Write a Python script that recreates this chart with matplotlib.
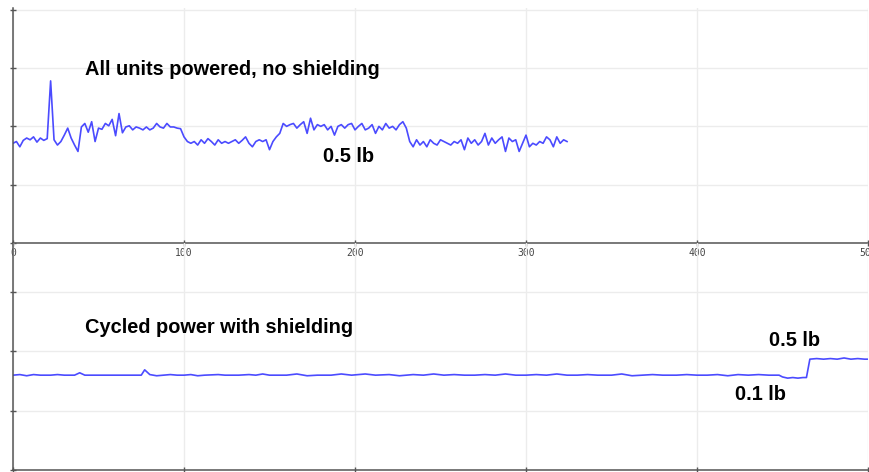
import numpy as np
import matplotlib
matplotlib.use("Agg")
import matplotlib.pyplot as plt

# top trace: all units powered, no shielding (sampled every 2 units)
top_a_start = 0
top_a = [1.71, 1.74, 1.65, 1.76, 1.80, 1.77, 1.82, 1.73, 1.80, 1.76, 1.79,
         2.78, 1.77, 1.68, 1.74, 1.85, 1.97, 1.80, 1.68, 1.57, 1.99, 2.05, 1.90,
         2.08, 1.74, 1.97, 1.95, 2.05, 2.01, 2.12, 1.84, 2.22, 1.89, 1.99,
         2.01, 1.94, 1.99, 1.97, 1.94, 1.99, 1.94, 1.97, 2.05, 1.99, 1.97, 2.05,
         1.99, 1.99, 1.97, 1.96]
top_b_start = 100
top_b = [1.82, 1.74, 1.71, 1.74, 1.68, 1.77, 1.71, 1.79, 1.74, 1.68, 1.77, 1.71,
         1.74, 1.71, 1.74, 1.77, 1.71, 1.76, 1.82, 1.71, 1.65, 1.74, 1.77, 1.74,
         1.77, 1.60, 1.74, 1.82, 1.88]
top_c_start = 158
top_c = [2.05, 2.00, 2.03, 2.05, 1.97, 2.03, 2.08, 1.88, 2.14, 1.94, 2.03, 2.00,
         2.03, 1.94, 2.00, 1.85, 2.00, 2.03, 1.97, 2.03, 2.05, 1.94, 2.00, 2.05,
         1.94, 1.97, 2.03, 1.88, 2.00, 1.94, 2.05, 1.97, 2.00, 1.94, 2.03, 2.08, 1.97]
top_d_start = 232
top_d = [1.74, 1.65, 1.77, 1.68, 1.74, 1.65, 1.77, 1.71, 1.68, 1.77, 1.74, 1.71,
         1.68, 1.74, 1.71, 1.77, 1.60, 1.80, 1.71, 1.77, 1.68, 1.74, 1.88, 1.68,
         1.80, 1.71, 1.77, 1.82, 1.57, 1.80, 1.74, 1.77, 1.57, 1.71, 1.85, 1.65,
         1.71, 1.68, 1.74, 1.71, 1.82, 1.77, 1.65, 1.82, 1.71, 1.77, 1.74]

# bottom trace: cycled power with shielding
bot_x = [0, 4, 8, 12, 16, 22, 26, 30, 36, 39, 42, 56, 60, 75, 77, 80, 84, 88, 92,
         96, 100, 104, 108, 112, 120, 124, 132, 138, 142, 146, 150, 160, 166, 172,
         178, 186, 192, 198, 206, 212, 220, 226, 234, 240, 246, 252, 258, 264, 270,
         276, 282, 288, 294, 300, 306, 312, 318, 324, 330, 336, 342, 350, 356, 362,
         368, 374, 380, 388, 394, 400, 406, 412, 418, 424, 430, 436, 442, 448, 450,
         453, 456, 459, 462, 464, 466, 470, 474, 478, 482, 486, 490, 494, 498, 500]
bot_y = [1.60, 1.61, 1.59, 1.61, 1.60, 1.60, 1.61, 1.60, 1.60, 1.64, 1.60, 1.60,
         1.60, 1.60, 1.69, 1.61, 1.59, 1.60, 1.61, 1.60, 1.60, 1.61, 1.59, 1.60,
         1.61, 1.60, 1.60, 1.61, 1.60, 1.62, 1.60, 1.60, 1.62, 1.59, 1.60, 1.60,
         1.62, 1.60, 1.62, 1.60, 1.61, 1.59, 1.61, 1.60, 1.62, 1.60, 1.61, 1.60,
         1.60, 1.61, 1.60, 1.62, 1.60, 1.60, 1.61, 1.60, 1.62, 1.60, 1.60, 1.61,
         1.60, 1.60, 1.62, 1.59, 1.60, 1.61, 1.60, 1.60, 1.61, 1.60, 1.60, 1.61,
         1.59, 1.61, 1.60, 1.61, 1.60, 1.60, 1.57, 1.55, 1.56, 1.55, 1.56, 1.56,
         1.87, 1.88, 1.87, 1.88, 1.87, 1.89, 1.87, 1.88, 1.87, 1.87]

x_ticks = [0, 100, 200, 300, 400, 500]
top_y_ticks = [0, 1, 2, 3, 4]
bot_y_ticks = [0, 1, 2, 3]

top_x, top_y = [], []
for start, vals in [(top_a_start, top_a), (top_b_start, top_b),
                    (top_c_start, top_c), (top_d_start, top_d)]:
    top_x += list(np.arange(start, start + 2 * len(vals), 2))
    top_y += vals

line_col = "#4b4bff"
spine_col = "#555555"
grid_col = "#ececec"
lab_font = ["Liberation Sans", "DejaVu Sans"]

fig = plt.figure(figsize=(8.7, 4.72), dpi=100)
ax1 = fig.add_axes([13 / 870, 229 / 472, 855 / 870, 235 / 472])
ax2 = fig.add_axes([13 / 870, 2 / 472, 855 / 870, 227 / 472])


def style(ax, ymax, yticks):
    ax.set_xlim(0, 500)
    ax.set_ylim(0, ymax)
    ax.set_xticks(x_ticks)
    ax.set_yticks(yticks)
    ax.set_yticklabels([])
    ax.grid(True, color=grid_col, linewidth=1)
    ax.set_axisbelow(True)
    for s in ["top", "right"]:
        ax.spines[s].set_visible(False)
    for s in ["left", "bottom"]:
        ax.spines[s].set_color(spine_col)
        ax.spines[s].set_linewidth(1.1)
    ax.tick_params(direction="inout", length=5, width=1, color=spine_col,
                   labelsize=7, labelcolor="#444444", pad=1)
    ax.patch.set_alpha(0)


style(ax1, 4.03, top_y_ticks)
style(ax2, 3.83, bot_y_ticks)
for t in ax1.get_xticklabels():
    t.set_family("DejaVu Sans Mono")
ax2.set_xticklabels([])

ax1.plot(top_x, top_y, color=line_col, linewidth=1.2)
ax2.plot(bot_x, bot_y, color=line_col, linewidth=1.2)

txt = dict(fontsize=14.4, fontweight="bold", family=lab_font, color="black")
ax1.text(42, 2.97, "All units powered, no shielding", ha="left", va="center", **txt)
ax1.text(181, 1.49, "0.5 lb", ha="left", va="center", **txt)
ax2.text(42, 2.40, "Cycled power with shielding", ha="left", va="center", **txt)
ax2.text(442, 2.19, "0.5 lb", ha="left", va="center", **txt)
ax2.text(422, 1.28, "0.1 lb", ha="left", va="center", **txt)

fig.savefig("out.png", dpi=100)
